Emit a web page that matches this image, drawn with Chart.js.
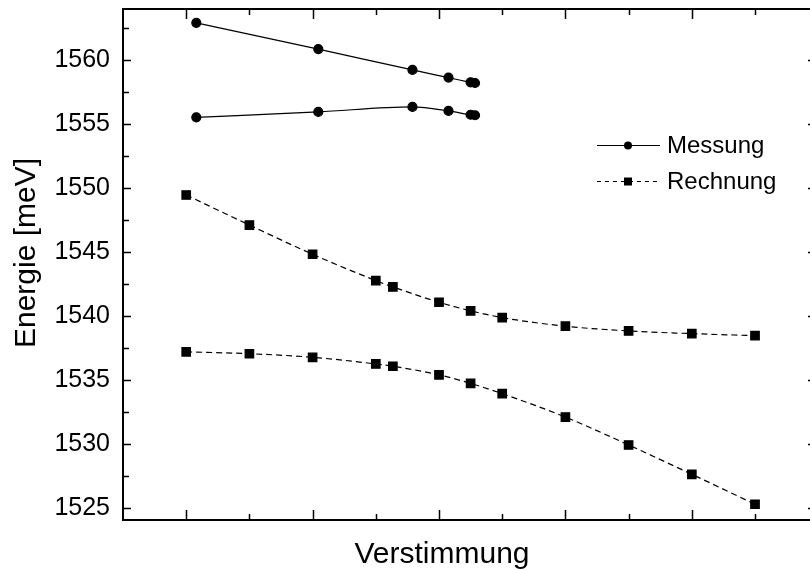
<!DOCTYPE html>
<html>
<head>
<meta charset="utf-8">
<script src="https://cdn.jsdelivr.net/npm/chart.js@4.4.0/dist/chart.umd.min.js"></script>
<style>
  html, body { margin: 0; padding: 0; background: #fff; overflow: hidden; }
  #wrap { width: 810px; height: 569px; overflow: hidden; }
</style>
</head>
<body>
<div id="wrap"><canvas id="chart" width="830" height="569"></canvas></div>
<script>
// Messung (gemessen), zwei Aeste
const messX = [0.16, 2.09, 3.58, 4.15, 4.5, 4.57];
const messOben = [1562.9, 1560.85, 1559.22, 1558.62, 1558.25, 1558.2];
const messUnten = [1555.52, 1555.94, 1556.33, 1556.02, 1555.72, 1555.68];

// Rechnung (berechnet), zwei Aeste
const rechX = [0, 1, 2, 3, 3.27, 4, 4.5, 5, 6, 7, 8, 9];
const rechOben = [1549.45, 1547.1, 1544.82, 1542.76, 1542.27, 1541.07, 1540.4, 1539.87, 1539.2, 1538.83, 1538.62, 1538.46];
const rechUnten = [1537.2, 1537.05, 1536.77, 1536.25, 1536.07, 1535.4, 1534.73, 1533.93, 1532.1, 1529.92, 1527.63, 1525.29];

const yTicks = [1525, 1530, 1535, 1540, 1545, 1550, 1555, 1560];
const xTicks = [0, 1, 2, 3, 4, 5, 6, 7, 8, 9];
const legendLabels = ['Messung', 'Rechnung'];
const xTitle = 'Verstimmung';
const yTitle = 'Energie [meV]';

const FONT = '"Liberation Sans", Arial, Helvetica, sans-serif';

function pts(xs, ys) {
    return xs.map((x, i) => ({ x: x, y: ys[i] }));
}

function messSet(data) {
    return {
        data: data,
        borderColor: '#000',
        backgroundColor: '#000',
        borderWidth: 1.2,
        pointStyle: 'circle',
        pointRadius: 4.5,
        pointHoverRadius: 4.5,
        cubicInterpolationMode: 'monotone',
        fill: false
    };
}

function rechSet(data) {
    return {
        data: data,
        borderColor: '#000',
        backgroundColor: '#000',
        borderWidth: 1.2,
        borderDash: [6, 4],
        pointStyle: 'rect',
        pointRadius: 6,
        pointHoverRadius: 6,
        cubicInterpolationMode: 'monotone',
        fill: false
    };
}

// Rahmen, Striche nach innen, Achsentitel und Legende
const framePlugin = {
    id: 'frame',
    afterDraw(chart) {
        const ctx = chart.ctx;
        const a = chart.chartArea;
        const xs = chart.scales.x;
        const ys = chart.scales.y;
        ctx.save();
        ctx.strokeStyle = '#000';

        ctx.lineWidth = 2;
        ctx.strokeRect(a.left, a.top, a.right - a.left, a.bottom - a.top);

        ctx.lineWidth = 1.5;
        ctx.beginPath();
        xTicks.forEach(v => {
            const px = Math.round(xs.getPixelForValue(v)) + 0.5;
            const len = v % 2 === 0 ? 10 : 6;
            ctx.moveTo(px, a.bottom);
            ctx.lineTo(px, a.bottom - len);
            ctx.moveTo(px, a.top);
            ctx.lineTo(px, a.top + len);
        });
        yTicks.forEach(v => {
            [v, v + 2.5].forEach((t, k) => {
                if (t > ys.max) return;
                const py = Math.round(ys.getPixelForValue(t)) + 0.5;
                const len = k === 0 ? 8 : 6;
                ctx.moveTo(a.left, py);
                ctx.lineTo(a.left + len, py);
                ctx.moveTo(a.right, py);
                ctx.lineTo(a.right - len, py);
            });
        });
        ctx.stroke();

        ctx.fillStyle = '#000';
        ctx.font = '30px ' + FONT;
        ctx.textAlign = 'center';
        ctx.textBaseline = 'alphabetic';
        ctx.fillText(xTitle, 442, 563);

        ctx.save();
        ctx.translate(35, 253);
        ctx.rotate(-Math.PI / 2);
        ctx.fillText(yTitle, 0, 0);
        ctx.restore();

        // Legende
        const rows = [145, 181];
        [chart.data.datasets[0], chart.data.datasets[2]].forEach((ds, i) => {
            const y = rows[i];
            ctx.lineWidth = 1.2;
            ctx.setLineDash(ds.borderDash ? [4, 4] : []);
            ctx.beginPath();
            ctx.moveTo(597, y + 0.5);
            ctx.lineTo(660, y + 0.5);
            ctx.stroke();
            ctx.setLineDash([]);
            if (ds.pointStyle === 'circle') {
                ctx.beginPath();
                ctx.arc(628, y + 0.5, 4, 0, Math.PI * 2);
                ctx.fill();
            } else {
                ctx.fillRect(624, y - 3.5, 8, 8);
            }
            ctx.font = '24px ' + FONT;
            ctx.textAlign = 'left';
            ctx.textBaseline = 'middle';
            ctx.fillText(legendLabels[i], 667, y + 1);
        });
        ctx.restore();
    }
};

new Chart(document.getElementById('chart'), {
    type: 'line',
    data: {
        datasets: [
            messSet(pts(messX, messOben)),
            messSet(pts(messX, messUnten)),
            rechSet(pts(rechX, rechOben)),
            rechSet(pts(rechX, rechUnten))
        ]
    },
    options: {
        responsive: false,
        animation: false,
        layout: { padding: { left: 0, top: 9, right: 14, bottom: 0 } },
        plugins: {
            legend: { display: false },
            tooltip: { enabled: false }
        },
        scales: {
            x: {
                type: 'linear',
                min: -1,
                max: 9.965,
                grid: { display: false },
                border: { display: false },
                ticks: { display: false },
                afterFit(s) { s.height = 49; s.paddingLeft = 0; s.paddingRight = 0; }
            },
            y: {
                min: 1524.06,
                max: 1563.98,
                grid: { display: false, drawTicks: false },
                border: { display: false },
                ticks: {
                    stepSize: 5,
                    includeBounds: false,
                    padding: 13,
                    color: '#000',
                    font: { family: FONT, size: 25 },
                    callback: v => String(v)
                },
                afterBuildTicks(s) {
                    s.ticks = yTicks.map(v => ({ value: v }));
                },
                afterFit(s) { s.width = 123; s.paddingTop = 0; s.paddingBottom = 0; }
            }
        }
    },
    plugins: [framePlugin]
});
</script>
</body>
</html>
